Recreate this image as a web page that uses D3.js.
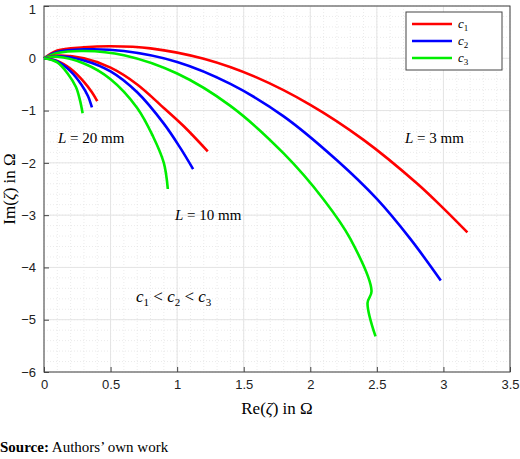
<!DOCTYPE html>
<html><head><meta charset="utf-8">
<script src="https://cdn.jsdelivr.net/npm/d3@7/dist/d3.min.js"></script>
<style>body{margin:0;background:#fff}</style></head>
<body><div id="container"></div>
<script>
const xTicks = [0, 0.5, 1, 1.5, 2, 2.5, 3, 3.5];
const yTicks = [1, 0, -1, -2, -3, -4, -5, -6];
const seriesNames = ["c1", "c2", "c3"];
const colors = ["#ff0000", "#0000ff", "#00ee00"];

// L = 3 mm
const l3c1 = [[0,0],[0.1,0.15],[0.3,0.21],[0.5,0.23],[0.8,0.19],[1.2,-0.01],[1.6,-0.37],[2.0,-0.89],[2.4,-1.56],[2.8,-2.39],[3.0,-2.87],[3.18,-3.33]];
const l3c2 = [[0,0],[0.1,0.12],[0.3,0.17],[0.6,0.14],[1.0,-0.07],[1.4,-0.49],[1.8,-1.11],[2.2,-1.95],[2.5,-2.69],[2.75,-3.45],[2.98,-4.25]];
const l3c3 = [[0,0],[0.1,0.1],[0.3,0.14],[0.6,0.06],[1.0,-0.29],[1.4,-0.91],[1.8,-1.82],[2.1,-2.7],[2.3,-3.45],[2.46,-4.45],[2.43,-4.68],[2.49,-5.32]];
// L = 10 mm
const l10c1 = [[0,0],[0.1,0.05],[0.3,0.0],[0.5,-0.18],[0.7,-0.5],[0.9,-0.95],[1.05,-1.3],[1.23,-1.78]];
const l10c2 = [[0,0],[0.1,0.04],[0.3,-0.04],[0.5,-0.25],[0.7,-0.65],[0.9,-1.25],[1.02,-1.7],[1.12,-2.12]];
const l10c3 = [[0,0],[0.1,0.03],[0.3,-0.1],[0.5,-0.4],[0.7,-0.95],[0.82,-1.5],[0.9,-2.0],[0.93,-2.5]];
// L = 20 mm
const l20c1 = [[0,0],[0.1,-0.05],[0.2,-0.2],[0.3,-0.45],[0.36,-0.65],[0.40,-0.82]];
const l20c2 = [[0,0],[0.1,-0.06],[0.2,-0.25],[0.28,-0.5],[0.33,-0.72],[0.36,-0.94]];
const l20c3 = [[0,0],[0.1,-0.08],[0.18,-0.3],[0.24,-0.55],[0.27,-0.8],[0.29,-1.05]];
const groups = [[l3c1,l3c2,l3c3],[l10c1,l10c2,l10c3],[l20c1,l20c2,l20c3]];

const svg = d3.select("#container").append("svg").attr("width",520).attr("height",459)
  .style("font-family","Liberation Sans, Arial, sans-serif");
const x = d3.scaleLinear().domain([0,3.5]).range([44,510]);
const y = d3.scaleLinear().domain([-6,1]).range([372,6]);

// grid
const g = svg.append("g");
d3.range(0,3.51,0.1).forEach(v => g.append("line").attr("x1",x(v)).attr("x2",x(v)).attr("y1",y(1)).attr("y2",y(-6))
  .attr("stroke","#ddd").attr("stroke-width",0.6).attr("stroke-dasharray","1,2"));
d3.range(-6,1.01,0.2).forEach(v => g.append("line").attr("y1",y(v)).attr("y2",y(v)).attr("x1",x(0)).attr("x2",x(3.5))
  .attr("stroke","#ddd").attr("stroke-width",0.6).attr("stroke-dasharray","1,2"));
xTicks.forEach(v => g.append("line").attr("x1",x(v)).attr("x2",x(v)).attr("y1",y(1)).attr("y2",y(-6)).attr("stroke","#e4e4e4"));
yTicks.forEach(v => g.append("line").attr("y1",y(v)).attr("y2",y(v)).attr("x1",x(0)).attr("x2",x(3.5)).attr("stroke","#e4e4e4"));

svg.append("rect").attr("x",x(0)).attr("y",y(1)).attr("width",x(3.5)-x(0)).attr("height",y(-6)-y(1))
  .attr("fill","none").attr("stroke","#444");
svg.append("g").attr("transform",`translate(0,${y(-6)})`)
  .call(d3.axisBottom(x).tickValues(xTicks).tickSize(-5).tickPadding(8).tickFormat(d3.format("")))
  .call(a=>{a.select(".domain").remove();a.selectAll("text").attr("font-size",13).attr("fill","#222");a.selectAll("line").attr("stroke","#444");});
svg.append("g").attr("transform",`translate(${x(0)},0)`)
  .call(d3.axisLeft(y).tickValues(yTicks).tickSize(-5).tickPadding(8).tickFormat(d => d < 0 ? "−" + (-d) : d))
  .call(a=>{a.select(".domain").remove();a.selectAll("text").attr("font-size",13).attr("fill","#222");a.selectAll("line").attr("stroke","#444");
    a.selectAll("text").filter(d => d === 1).attr("dy","0.6em");});

const lineX = d3.line().x(d=>x(d[0])).y(d=>y(d[1])).curve(d3.curveCatmullRom.alpha(0.5));
groups.forEach(gr => gr.forEach((s,i) => svg.append("path").attr("d", lineX(s))
  .attr("fill","none").attr("stroke",colors[i]).attr("stroke-width",2.6).attr("stroke-linejoin","round")));

// legend
const serif = "Liberation Serif, serif";
const lg = svg.append("g");
lg.append("rect").attr("x",406).attr("y",12).attr("width",96).attr("height",58).attr("fill","#fff").attr("stroke","#444");
seriesNames.forEach((n,i) => {
  const yy = 24 + i*17;
  lg.append("line").attr("x1",412).attr("x2",452).attr("y1",yy).attr("y2",yy).attr("stroke",colors[i]).attr("stroke-width",2.6);
  const t = lg.append("text").attr("x",458).attr("y",yy+4).attr("font-family",serif).attr("font-size",13);
  t.append("tspan").attr("font-style","italic").text("c");
  t.append("tspan").attr("font-size",9).attr("dy",3).text(n.slice(1));
});

function label(px, py, txt) {
  const t = svg.append("text").attr("x",px).attr("y",py).attr("font-family",serif).attr("font-size",15);
  t.append("tspan").attr("font-style","italic").text("L");
  t.append("tspan").text(" = " + txt);
}
label(58,143,"20 mm");
label(405,143,"3 mm");
label(175,220,"10 mm");

const c = svg.append("text").attr("x",136).attr("y",302).attr("font-family",serif).attr("font-size",17);
seriesNames.forEach((n,i) => {
  if (i) c.append("tspan").attr("dy",-4).text(" < ");
  c.append("tspan").attr("font-style","italic").attr("dy", i ? 0 : null).text("c");
  c.append("tspan").attr("font-size",11).attr("dy",4).text(n.slice(1));
});

svg.append("text").attr("x",277).attr("y",414).attr("text-anchor","middle").attr("font-family",serif).attr("font-size",17)
  .html('Re(<tspan font-style="italic">ζ</tspan>) in Ω');
svg.append("text").attr("transform",`translate(15,${y(-2.5)}) rotate(-90)`).attr("text-anchor","middle")
  .attr("font-family",serif).attr("font-size",17).html('Im(<tspan font-style="italic">ζ</tspan>) in Ω');

svg.append("text").attr("x",0).attr("y",452).attr("font-family",serif).attr("font-size",15)
  .html('<tspan font-weight="bold">Source:</tspan> Authors’ own work');
</script></body></html>
